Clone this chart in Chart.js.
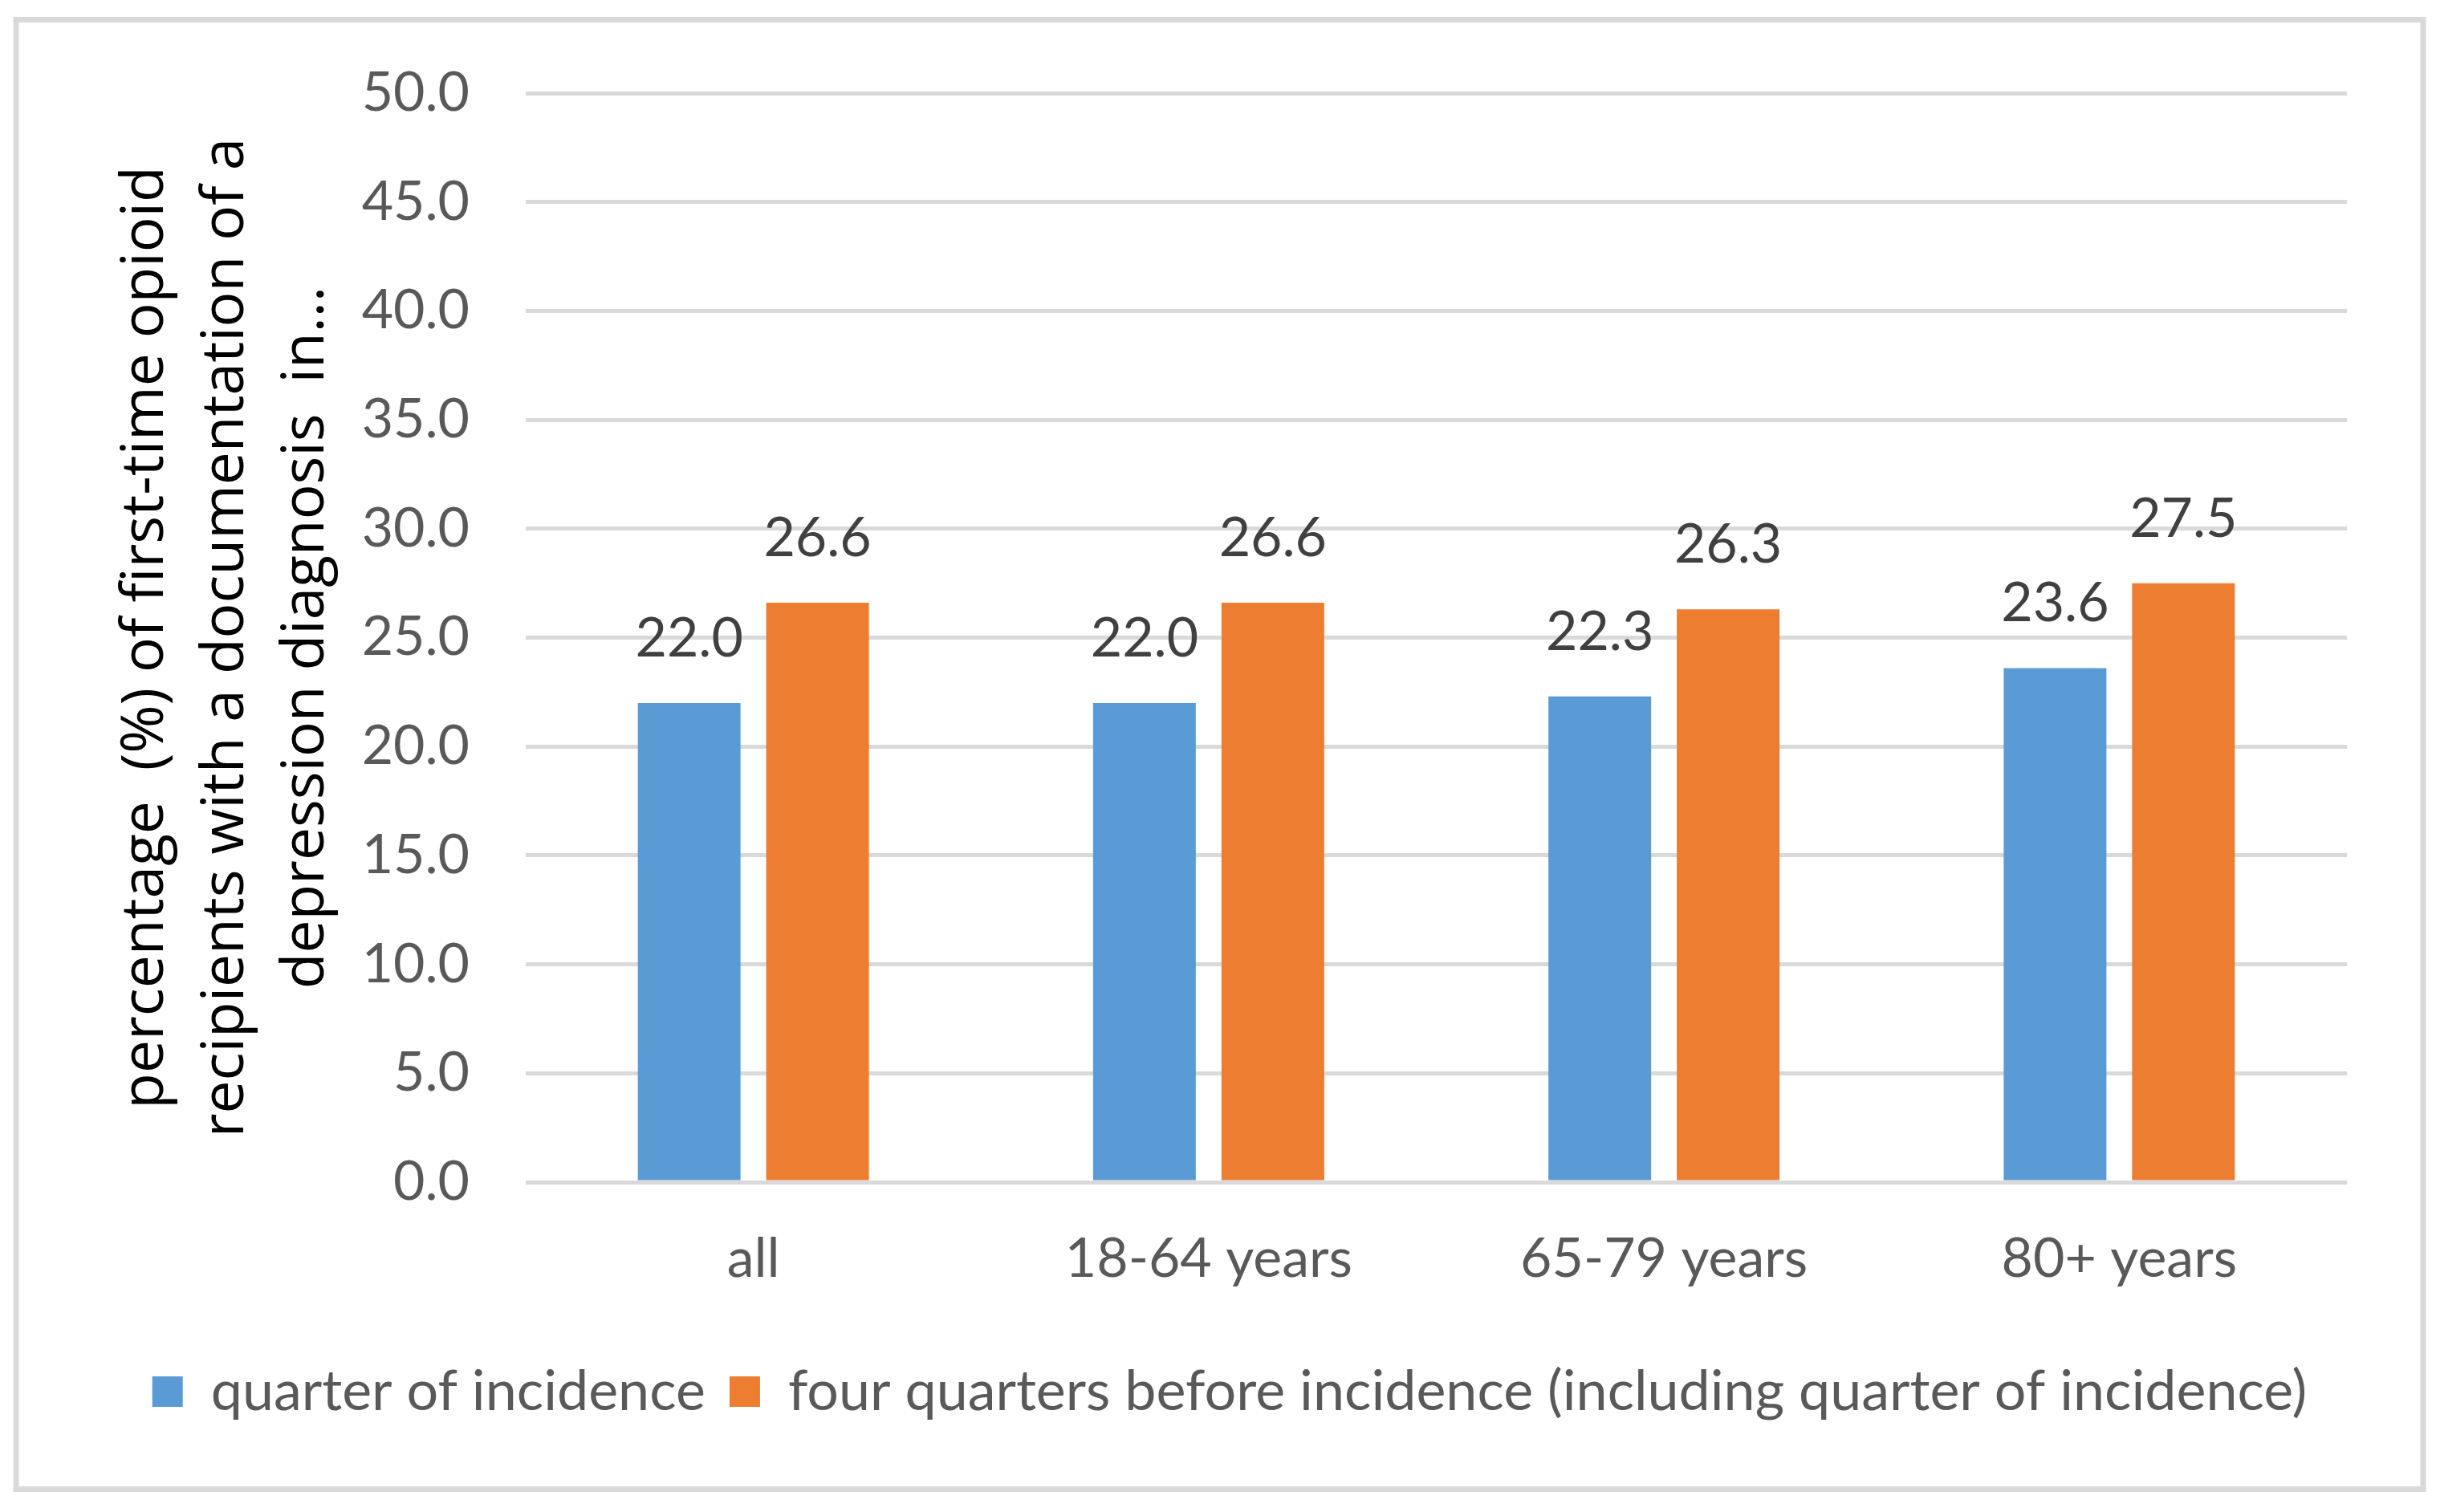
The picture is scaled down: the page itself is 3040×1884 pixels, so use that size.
<!DOCTYPE html>
<html>
<head>
<meta charset="utf-8">
<script src="https://cdn.jsdelivr.net/npm/chart.js@4.4.1/dist/chart.umd.min.js"></script>
<style>
  html, body { margin: 0; padding: 0; background: #ffffff; }
  #wrap { width: 3040px; height: 1884px; }
</style>
</head>
<body>
<div id="wrap"><canvas id="depressionChart" width="3040" height="1884"></canvas></div>
<script>
// values
const categories = ['all', '18-64 years', '65-79 years', '80+ years'];
const seriesNames = ['quarter of incidence', 'four quarters before incidence (including quarter of incidence)'];
const quarterOfIncidence = [22.0, 22.0, 22.3, 23.6];
const fourQuartersBefore = [26.6, 26.6, 26.3, 27.5];
const yMin = 0;
const yMax = 50;
const yStep = 5;
const yTitle = [
  'percentage  (%) of first-time opioid',
  'recipients with a documentation of a',
  'depression diagnosis  in...'
];

const labelFont = 'Lato, Carlito, Calibri, sans-serif';

// frame + white background like the exported Excel chart
const frame = {
  id: 'frame',
  beforeDraw(chart) {
    const ctx = chart.ctx;
    ctx.save();
    ctx.fillStyle = '#ffffff';
    ctx.fillRect(0, 0, chart.width, chart.height);
    ctx.strokeStyle = '#d9d9d9';
    ctx.lineWidth = 7;
    ctx.strokeRect(20, 24.5, 2999, 1831);
    ctx.restore();
  }
};

// legend in the original is centred on the whole frame, not the plot
const legendShift = {
  id: 'legendShift',
  afterLayout(chart) {
    if (chart.legend) {
      chart.legend.left += 50;
      chart.legend.right += 50;
    }
  }
};

// value labels above each bar
const barValues = {
  id: 'barValues',
  afterDatasetsDraw(chart) {
    const ctx = chart.ctx;
    ctx.save();
    ctx.font = '68px ' + labelFont;
    ctx.fillStyle = '#404040';
    ctx.textAlign = 'center';
    ctx.textBaseline = 'alphabetic';
    chart.data.datasets.forEach((ds, i) => {
      chart.getDatasetMeta(i).data.forEach((bar, j) => {
        ctx.fillText(ds.data[j].toFixed(1), bar.x, bar.y - 58);
      });
    });
    ctx.restore();
  }
};

new Chart(document.getElementById('depressionChart'), {
  type: 'bar',
  data: {
    labels: categories,
    datasets: [{
      label: seriesNames[0],
      data: quarterOfIncidence,
      backgroundColor: '#5b9bd5'
    }, {
      label: seriesNames[1],
      data: fourQuartersBefore,
      backgroundColor: '#ed7d31'
    }]
  },
  options: {
    responsive: false,
    devicePixelRatio: 1,
    animation: false,
    categoryPercentage: 0.564,
    barPercentage: 0.8,
    layout: {
      padding: { left: 40, right: 116, top: 116, bottom: 105 }
    },
    plugins: {
      tooltip: { enabled: false },
      legend: {
        position: 'bottom',
        labels: {
          boxWidth: 38,
          boxHeight: 38,
          padding: 30,
          color: '#595959',
          font: { family: labelFont, size: 70 }
        }
      }
    },
    scales: {
      x: {
        grid: { display: false },
        border: { display: false },
        ticks: {
          color: '#595959',
          padding: 47,
          font: { family: labelFont, size: 68 }
        },
        afterFit(scale) { scale.height = 196; }
      },
      y: {
        min: yMin,
        max: yMax,
        border: { display: false },
        grid: { color: '#d9d9d9', lineWidth: 5, drawTicks: false },
        ticks: {
          stepSize: yStep,
          color: '#595959',
          padding: 70,
          font: { family: labelFont, size: 68 },
          callback: v => v.toFixed(1)
        },
        title: {
          display: true,
          text: yTitle,
          color: '#000000',
          padding: { top: 92, bottom: 0 },
          font: { family: '"Open Sans", "Noto Sans", sans-serif', size: 73, lineHeight: '100px' }
        },
        afterFit(scale) { scale.width = 615; }
      }
    }
  },
  plugins: [frame, legendShift, barValues]
});
</script>
</body>
</html>
